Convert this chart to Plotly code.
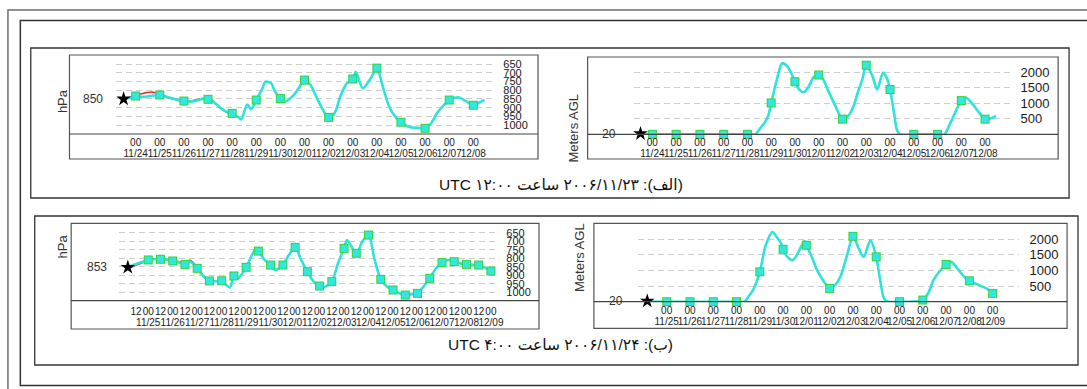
import plotly.graph_objects as go

W, H = 1087, 389
FONT = "Liberation Sans, Arial, DejaVu Sans, sans-serif"

# ---------------- run (الف): released 2006-11-23 12:00 UTC ----------------
a_first00 = 12          # hours from release to the first 00 UTC
a_dates = ["11/24", "11/25", "11/26", "11/27", "11/28", "11/29", "11/30", "12/01",
           "12/02", "12/03", "12/04", "12/05", "12/06", "12/07", "12/08"]

a_p_hours = [0, 6, 12, 18, 24, 30, 36, 42, 48, 54, 60, 66, 72, 78, 84, 90, 96, 102, 108, 114,
             117, 123, 127, 132, 138, 141, 147, 150, 156, 160, 168, 174, 180, 186, 192, 198,
             204, 210, 216, 222, 228, 231, 238, 246, 252, 258, 264, 270, 276, 285, 292, 300,
             306, 312, 318, 324, 333, 340, 348, 354, 359]
a_p = [850, 843, 833, 838, 836, 830, 827, 836, 846, 856, 862, 865, 860, 850, 852, 870, 900, 922,
       933, 955, 968, 882, 910, 856, 790, 750, 760, 800, 848, 866, 835, 790, 741, 770, 840, 910,
       956, 930, 830, 760, 735, 693, 788, 730, 672, 780, 890, 950, 984, 1013, 1016, 1019, 990,
       930, 890, 856, 840, 860, 886, 870, 856]
a_p_red_hours = [0, 6, 12, 18, 24, 28, 32, 36, 42, 48, 54, 60, 66, 72, 78, 82, 86, 90, 96, 102,
                 108, 114, 117]
a_p_red = [850, 842, 830, 820, 813, 810, 815, 825, 838, 848, 856, 862, 862, 856, 848, 844, 848,
           866, 900, 926, 938, 955, 968]

a_z_hours = [0, 6, 12, 36, 60, 84, 108, 116, 121, 125, 129, 132, 138, 143, 148, 152, 156, 160,
             165, 170, 175, 180, 184, 189, 197, 204, 210, 215, 220, 224, 228, 234, 239, 245,
             249, 252, 256, 259, 262, 276, 300, 307, 312, 316, 320, 324, 329, 336, 342, 348,
             354, 359]
a_z = [20, 5, 0, 0, 0, 0, 0, 0, 200, 358, 600, 1011, 1800, 2293, 2200, 1989, 1696, 1450, 1359,
       1550, 1850, 1913, 1800, 1446, 900, 489, 600, 900, 1400, 1772, 2228, 1900, 1446, 1989,
       1800, 1446, 700, 140, 0, 0, 0, 0, 300, 576, 850, 1087, 1170, 950, 700, 489, 520, 598]

# ---------------- run (ب): released 2006-11-24 04:00 UTC ----------------
b_first00 = 20
b_dates = ["11/25", "11/26", "11/27", "11/28", "11/29", "11/30", "12/01", "12/02", "12/03",
           "12/04", "12/05", "12/06", "12/07", "12/08", "12/09"]

b_p_hours = [0, 6, 14, 20, 26, 32, 38, 44, 50, 56, 61, 68, 74, 80, 86, 92, 100, 104, 108, 116,
             125, 128, 134, 140, 144, 152, 158, 164, 170, 176, 182, 188, 192, 200, 206, 212,
             215, 224, 230, 236, 242, 248, 254, 260, 266, 272, 278, 284, 290, 296, 302, 308,
             314, 320, 326, 332, 338, 344, 350, 356]
b_p = [853, 838, 822, 810, 806, 806, 808, 816, 825, 836, 820, 859, 905, 933, 935, 932, 971, 904,
       918, 853, 748, 758, 810, 840, 869, 840, 780, 736, 810, 879, 935, 963, 971, 937, 830, 742,
       693, 771, 700, 664, 810, 924, 965, 986, 1005, 1016, 1012, 1006, 965, 918, 860, 826, 810,
       820, 830, 836, 838, 840, 855, 875]
b_p_red_hours = [0, 6, 14, 20, 26, 32, 38, 44, 50, 56, 61, 68, 74, 80]
b_p_red = [858, 845, 826, 812, 804, 803, 806, 814, 820, 830, 812, 852, 902, 935]

b_z_hours = [0, 6, 20, 44, 68, 92, 100, 104, 109, 116, 122, 129, 134, 138, 140, 144, 150, 156,
             162, 164, 170, 175, 182, 188, 194, 199, 206, 212, 218, 223, 230, 236, 240, 244,
             248, 260, 270, 284, 290, 295, 302, 308, 313, 320, 326, 332, 342, 350, 356]
b_z = [20, 5, 0, 0, 0, 0, 0, 150, 372, 958, 1800, 2234, 2050, 1862, 1681, 1450, 1330, 1600,
       1947, 1809, 1400, 1011, 650, 426, 550, 798, 1500, 2096, 1700, 1436, 1968, 1436, 700, 106,
       0, 0, 0, 53, 300, 692, 1000, 1192, 1277, 1050, 820, 670, 532, 420, 266]

p_ticks = [650, 700, 750, 800, 850, 900, 950, 1000]
z_ticks = [500, 1000, 1500, 2000]

a_caption = "(الف): ۲۰۰۶/۱۱/۲۳ ساعت ۱۲:۰۰ UTC"
b_caption = "(ب): ۲۰۰۶/۱۱/۲۴ ساعت ۴:۰۰ UTC"

CYAN = "#2de3da"
RED = "#e02a2a"
FRAME = "#4a4a4a"


def px(x):
    return x / W


def py(y):
    return 1 - y / H


def days(hours, first):
    return [(h - first) / 24 for h in hours]


def sample(hours, vals, first, step):
    xs, ys = [], []
    for h, v in zip(hours, vals):
        if h >= first and (h - first) % step == 0:
            xs.append((h - first) / 24)
            ys.append(v)
    return xs, ys


fig = go.Figure()


def add_track(n, hours, vals, first, step, red=None):
    xa = "x" if n == 1 else f"x{n}"
    ya = "y" if n == 1 else f"y{n}"
    common = dict(xaxis=xa, yaxis=ya, hoverinfo="skip", showlegend=False)
    if red is not None:
        fig.add_trace(go.Scatter(x=days(red[0], first), y=red[1], mode="lines",
                                 line=dict(color=RED, width=1.6, shape="spline", smoothing=0.8),
                                 **common))
    fig.add_trace(go.Scatter(x=days(hours, first), y=vals, mode="lines",
                             line=dict(color=CYAN, width=2.6, shape="spline", smoothing=0.8),
                             **common))
    mx, my = sample(hours, vals, first, step)
    fig.add_trace(go.Scatter(x=mx, y=my, mode="markers", cliponaxis=False,
                             marker=dict(symbol="square", size=9, color="#38d23a",
                                         line=dict(width=0)), **common))
    fig.add_trace(go.Scatter(x=mx, y=my, mode="markers", cliponaxis=False,
                             marker=dict(symbol="square", size=7, color="#30e8e0",
                                         line=dict(width=0)), **common))
    fig.add_trace(go.Scatter(x=[(hours[0] - first) / 24], y=[vals[0]], mode="markers",
                             cliponaxis=False,
                             marker=dict(symbol="star", size=11, color="black",
                                         line=dict(width=0)), **common))
    # the date row lives on a companion x axis; give it the same samples (invisible)
    fig.add_trace(go.Scatter(x=mx, y=my, mode="markers", marker=dict(opacity=0, size=1),
                             xaxis=f"x{n + 4}", yaxis=ya, hoverinfo="skip", showlegend=False))


add_track(1, a_p_hours, a_p, a_first00, 24, red=(a_p_red_hours, a_p_red))
add_track(2, a_z_hours, a_z, a_first00, 24)
add_track(3, b_p_hours, b_p, b_first00, 12, red=(b_p_red_hours, b_p_red))
add_track(4, b_z_hours, b_z, b_first00, 24)

# time-axis labels: hour row and date row
a_tv = list(range(len(a_dates)))
a_hr = ["00"] * len(a_dates)
b_tv_half, b_hr_half = [], []
for i in range(len(b_dates)):
    b_tv_half += [i - 0.5, i]
    b_hr_half += ["12", "00"]
b_tv = list(range(len(b_dates)))
b_hr = ["00"] * len(b_dates)


def set_axes(n, xdom, ydom, xrange, yrange, tv, hr, dv, dt, ytv, xsize, ysize, s_hr, s_date):
    xs = "xaxis" if n == 1 else f"xaxis{n}"
    ys = "yaxis" if n == 1 else f"yaxis{n}"
    xd = f"xaxis{n + 4}"
    yname = "y" if n == 1 else f"y{n}"
    xname = "x" if n == 1 else f"x{n}"
    base = dict(domain=[px(xdom[0]), px(xdom[1])], range=xrange, anchor=yname,
                tickangle=0, ticks="", showgrid=False, zeroline=False, showline=False,
                tickfont=dict(family=FONT, size=xsize, color="#1a1a1a"), fixedrange=True)
    fig.layout[xs] = dict(base, tickvals=tv, ticktext=hr, ticklabelstandoff=s_hr)
    fig.layout[xd] = dict(base, tickvals=dv, ticktext=dt, ticklabelstandoff=s_date,
                          overlaying=xname)
    fig.layout[ys] = dict(domain=[py(ydom[0]), py(ydom[1])], range=yrange,
                          anchor=xname, side="right",
                          tickvals=ytv, ticks="", showgrid=True, griddash="6px,4px",
                          gridcolor="#cdcdcd", gridwidth=1, zeroline=False, showline=False,
                          tickfont=dict(family=FONT, size=ysize, color="#1a1a1a"),
                          ticklabelstandoff=9, fixedrange=True)


set_axes(1, (117, 497), (134, 55), [-0.81, 14.83], [1051.9, 596.4],
         a_tv, a_hr, a_tv, a_dates, p_ticks, 10, 11, 1, 12)
set_axes(2, (638.3, 1018), (134.3, 57), [-0.79, 15.07], [0, 2494],
         a_tv, a_hr, a_tv, a_dates, z_ticks, 10, 13, 1, 12)
set_axes(3, (120, 500), (300.7, 223.3), [-1.19, 14.22], [1049, 595],
         b_tv_half, b_hr_half, b_tv, b_dates, p_ticks, 10, 11, 3, 14)
set_axes(4, (643, 1027), (301.7, 223.3), [-1.22, 15.15], [0, 2513],
         b_tv, b_hr, b_tv, b_dates, z_ticks, 10, 13, 1, 12)

shapes = []


def rect(x0, y0, x1, y1, color=FRAME, width=1.2):
    shapes.append(dict(type="rect", xref="paper", yref="paper", x0=px(x0), x1=px(x1),
                       y0=py(y1), y1=py(y0), line=dict(color=color, width=width)))


def hline(x0, x1, y, color=FRAME, width=1.2):
    shapes.append(dict(type="line", xref="paper", yref="paper", x0=px(x0), x1=px(x1),
                       y0=py(y), y1=py(y), line=dict(color=color, width=width)))


# page frames
rect(8, 10, 1120, 420, color="#6e6e6e", width=1.5)
rect(20.5, 20.5, 1120, 385.5, color="#333", width=1.5)
# panel frames
rect(31, 48, 1077, 198, color="#333", width=1.3)
rect(35, 216, 1086, 365, color="#333", width=1.3)
# chart boxes with their time-axis strips
rect(70, 55, 542, 159, color="#555", width=1.2)
hline(70, 542, 134, color="#444")
rect(592, 57, 1066, 159, color="#555", width=1.2)
hline(592, 1066, 134.3, color="#444")
rect(71.7, 223.3, 543, 329, color="#555", width=1.2)
hline(71.7, 543, 300.7, color="#444")
rect(598.3, 223.3, 1075, 328.3, color="#555", width=1.2)
hline(598.3, 1075, 301.7, color="#444")
fig.update_layout(shapes=shapes)

ann = []


def title(x, y, text, size=13):
    ann.append(dict(x=px(x), y=py(y), xref="paper", yref="paper", text=text, textangle=-90,
                    showarrow=False, font=dict(family=FONT, size=size, color="#333")))


def start_label(xright, ya, value):
    ann.append(dict(x=px(xright), y=value, xref="paper", yref=ya, text=str(value),
                    xanchor="right", showarrow=False,
                    font=dict(family=FONT, size=12, color="#333")))


title(53, 87, "hPa")
title(577.3, 92, "Meters AGL")
title(53.3, 260, "hPa")
title(583.3, 258, "Meters AGL")
start_label(106, "y", a_p[0])
start_label(623, "y2", a_z[0])
start_label(110, "y3", b_p[0])
start_label(630, "y4", b_z[0])

for text, y in ((a_caption, 185), (b_caption, 355)):
    ann.append(dict(x=px(565), y=py(y), xref="paper", yref="paper",
                    text="\u202b" + text + "\u202c", showarrow=False,
                    font=dict(family="Liberation Sans, DejaVu Sans, sans-serif", size=15.5,
                              color="#111")))
fig.update_layout(annotations=ann)

fig.update_layout(width=W, height=H, autosize=False,
                  margin=dict(l=0, r=0, t=0, b=0, pad=0),
                  paper_bgcolor="white", plot_bgcolor="white", showlegend=False)

fig.write_html("out.html")
